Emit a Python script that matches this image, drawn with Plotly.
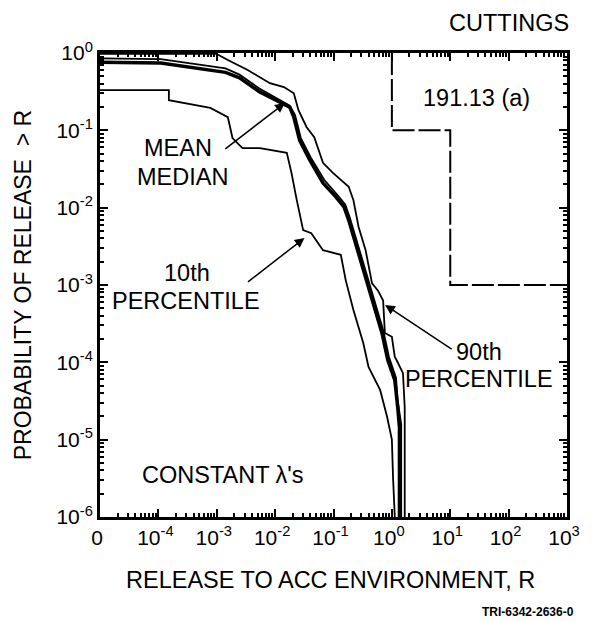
import numpy as np
import plotly.graph_objects as go

# Data (log10 values)
p90_logR = [-5.0, -3.01, -2.81, -2.47, -2.09, -1.85, -1.68, -1.60, -1.46, -1.33, -1.18, -1.01, -0.74, -0.66, -0.57, -0.45, -0.34, -0.24, -0.15, -0.12, 0.0, 0.05, 0.08, 0.19, 0.22, 0.22]
p90_logP = [-0.01, -0.01, -0.09, -0.22, -0.39, -0.44, -0.52, -0.74, -0.96, -1.09, -1.42, -1.55, -1.73, -1.90, -2.25, -2.55, -2.98, -3.07, -3.20, -3.62, -3.67, -3.93, -3.97, -4.14, -4.58, -7.0]

mean_logR = [-5.0, -3.96, -2.85, -2.61, -2.27, -1.94, -1.75, -1.68, -1.58, -1.41, -1.18, -0.96, -0.82, -0.74, -0.62, -0.45, -0.29, -0.17, -0.07, 0.05, 0.10, 0.13, 0.13]
mean_logP = [-0.12, -0.13, -0.25, -0.32, -0.50, -0.63, -0.70, -0.83, -1.13, -1.38, -1.68, -1.86, -1.99, -2.16, -2.46, -2.90, -3.32, -3.62, -3.97, -4.23, -4.58, -4.84, -7.0]

median_logR = [-5.0, -3.96, -2.85, -2.61, -2.27, -1.94, -1.75, -1.66, -1.56, -1.39, -1.16, -0.94, -0.80, -0.72, -0.60, -0.43, -0.27, -0.15, -0.05, 0.07, 0.10, 0.16, 0.16]
median_logP = [-0.07, -0.08, -0.20, -0.28, -0.46, -0.60, -0.68, -0.80, -1.10, -1.35, -1.64, -1.83, -1.96, -2.13, -2.43, -2.87, -3.28, -3.58, -3.93, -4.20, -4.50, -4.80, -7.0]

p10_logR = [-5.0, -3.82, -3.82, -3.11, -2.81, -2.73, -2.56, -2.26, -1.80, -1.72, -1.63, -1.52, -1.38, -1.18, -0.875, -0.79, -0.66, -0.49, -0.40, -0.20, -0.08, 0.0, 0.02, 0.05, 0.05]
p10_logP = [-0.48, -0.48, -0.61, -0.71, -0.83, -1.10, -1.23, -1.23, -1.29, -1.55, -1.90, -2.29, -2.33, -2.55, -2.61, -2.94, -3.32, -3.75, -4.06, -4.36, -4.71, -5.0, -5.49, -6.0, -7.0]

epa_R = [1, 1, 10, 10, 1000]
epa_P = [1, 0.1, 0.1, 0.001, 0.001]

x_tickvals = [1e-5, 1e-4, 1e-3, 1e-2, 1e-1, 1, 10, 100, 1000]
x_ticktext = ["0", "10<sup>-4</sup>", "10<sup>-3</sup>", "10<sup>-2</sup>", "10<sup>-1</sup>",
              "10<sup>0</sup>", "10<sup>1</sup>", "10<sup>2</sup>", "10<sup>3</sup>"]
y_tickvals = [1e-6, 1e-5, 1e-4, 1e-3, 1e-2, 1e-1, 1]
y_ticktext = ["10<sup>-6</sup>", "10<sup>-5</sup>", "10<sup>-4</sup>", "10<sup>-3</sup>",
              "10<sup>-2</sup>", "10<sup>-1</sup>", "10<sup>0</sup>"]

FONT = "Liberation Sans, Arial, Helvetica, sans-serif"
OFF = 8  # default page body margin
W, H = 592 - OFF, 621 - OFF
L, R, T, B = 100, 575, 53, 517  # plot area in page pixels

def pw(a):
    return [10 ** v for v in a]

def paper(px, py):
    return (px - L) / (R - L), 1 - (py - T) / (B - T)

fig = go.Figure()
fig.add_trace(go.Scatter(x=epa_R, y=epa_P, mode="lines",
                         line=dict(color="black", width=2, dash="22px,4px")))
fig.add_trace(go.Scatter(x=pw(p90_logR), y=pw(p90_logP), mode="lines",
                         line=dict(color="black", width=1.8)))
fig.add_trace(go.Scatter(x=pw(median_logR), y=pw(median_logP), mode="lines",
                         line=dict(color="black", width=1.8)))
fig.add_trace(go.Scatter(x=pw(mean_logR), y=pw(mean_logP), mode="lines",
                         line=dict(color="black", width=3.5)))
fig.add_trace(go.Scatter(x=pw(p10_logR), y=pw(p10_logP), mode="lines",
                         line=dict(color="black", width=1.8)))

minor_x = [k * 10.0 ** n for n in range(-5, 3) for k in range(2, 10)]
minor_y = [k * 10.0 ** n for n in range(-6, 0) for k in range(2, 10)]

axis_common = dict(type="log", showgrid=False, zeroline=False, showline=True,
                   linecolor="black", linewidth=3, mirror="allticks",
                   ticks="inside", ticklen=8, tickwidth=2, tickcolor="black",
                   tickfont=dict(family=FONT, size=21, color="black"))

fig.update_xaxes(range=[-5, 3], tickmode="array", tickvals=x_tickvals, ticktext=x_ticktext,
                 ticklabelshift=-3,
                 minor=dict(tickmode="array", tickvals=minor_x, ticks="inside", ticklen=4,
                            tickwidth=1.5, tickcolor="black"),
                 **axis_common)
fig.update_yaxes(range=[-6, 0], tickmode="array", tickvals=y_tickvals, ticktext=y_ticktext,
                 minor=dict(tickmode="array", tickvals=minor_y, ticks="inside", ticklen=4,
                            tickwidth=1.5, tickcolor="black"),
                 **axis_common)

FS = 23.5
annotations = [
    dict(x=516, y=23, text="CUTTINGS"),
    dict(x=483, y=98, text="191.13 (a)"),
    dict(x=179, y=148, text="MEAN"),
    dict(x=184, y=177, text="MEDIAN"),
    dict(x=188, y=273, text="10th"),
    dict(x=187, y=301, text="PERCENTILE"),
    dict(x=485, y=352, text="90th"),
    dict(x=485, y=379, text="PERCENTILE"),
    dict(x=225, y=475, text="CONSTANT λ's"),
    dict(x=334, y=580, text="RELEASE TO ACC ENVIRONMENT, R"),
]
for a in annotations:
    xp, yp = paper(a["x"], a["y"])
    fig.add_annotation(x=xp, y=yp, xref="paper", yref="paper",
                       text=a["text"], showarrow=False,
                       font=dict(family=FONT, size=FS, color="black"),
                       xanchor="center", yanchor="middle")

xp, yp = paper(22, 285)
fig.add_annotation(x=xp, y=yp, xref="paper", yref="paper",
                   text="PROBABILITY OF RELEASE  > R", textangle=-90, showarrow=False,
                   font=dict(family=FONT, size=23, color="black"),
                   xanchor="center", yanchor="middle")
xp, yp = paper(535, 612)
fig.add_annotation(x=xp, y=yp, xref="paper", yref="paper",
                   text="<b>TRI-6342-2636-0</b>", showarrow=False,
                   font=dict(family=FONT, size=12, color="black"),
                   xanchor="center", yanchor="middle")

# arrows: (tail px, head px) in page pixels
arrows = [((227, 150), (288, 103)), ((250, 283), (308, 238)), ((458, 350), (390, 305))]
for (tx, ty), (hx, hy) in arrows:
    hx_, hy_ = paper(hx, hy)
    fig.add_annotation(x=hx_, y=hy_, ax=tx - hx, ay=ty - hy, xref="paper", yref="paper",
                       axref="pixel", ayref="pixel", showarrow=True, text="",
                       arrowhead=2, arrowsize=1.3, arrowwidth=1.5, arrowcolor="black")

fig.update_layout(width=W, height=H,
                  margin=dict(l=L - OFF, r=W - (R - OFF), t=T - OFF, b=H - (B - OFF)),
                  paper_bgcolor="white", plot_bgcolor="white", showlegend=False,
                  font=dict(family=FONT, color="black"))

fig.write_html("out.html")
